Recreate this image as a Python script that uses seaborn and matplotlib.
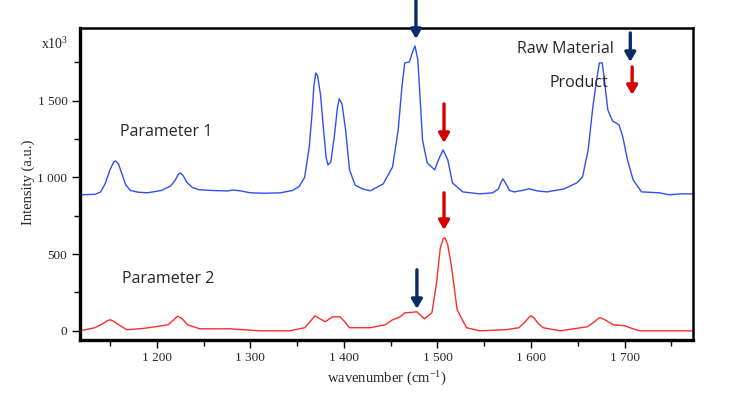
'''
Raman spectra of raw material vs product
'''
import numpy as np
import pandas as pd
import matplotlib
matplotlib.use('Agg')
import matplotlib.pyplot as plt
from matplotlib.ticker import MultipleLocator, FuncFormatter
import seaborn as sns

# spectrum (wavenumber cm-1, intensity)
wn_param1 = [1118, 1134, 1140, 1145, 1150, 1154, 1156, 1159, 1163, 1167, 1172, 1180, 1190, 1205,
             1215, 1220, 1223, 1225, 1228, 1232, 1238, 1245, 1260, 1275, 1282, 1290, 1300, 1315,
             1332, 1345, 1352, 1358, 1363, 1366, 1368, 1370, 1372, 1375, 1378, 1381, 1383, 1386,
             1390, 1393, 1395, 1398, 1402, 1406, 1412, 1420, 1428, 1442, 1452, 1458, 1462, 1465,
             1470, 1473, 1476, 1479, 1482, 1484, 1489, 1497, 1502, 1506, 1511, 1516, 1527, 1545,
             1559, 1565, 1568, 1570, 1573, 1577, 1582, 1590, 1598, 1607, 1617, 1635, 1649, 1655,
             1661, 1666, 1670, 1673, 1676, 1678, 1682, 1687, 1694, 1698, 1703, 1709, 1718, 1737,
             1748, 1760, 1773]
int_param1 = [887, 890, 905, 960, 1050, 1100, 1108, 1090, 1020, 950, 915, 904, 900, 915,
              945, 985, 1020, 1030, 1015, 970, 935, 920, 915, 912, 918, 912, 900, 897,
              900, 915, 940, 1000, 1200, 1420, 1600, 1682, 1660, 1540, 1330, 1130, 1082, 1100,
              1280, 1450, 1513, 1480, 1300, 1050, 950, 925, 913, 958, 1069, 1310, 1591, 1747,
              1754, 1812, 1858, 1767, 1460, 1245, 1095, 1050, 1128, 1180, 1115, 965, 906, 893,
              900, 925, 970, 991, 960, 915, 906, 915, 926, 912, 906, 925, 965, 1004,
              1180, 1460, 1636, 1747, 1747, 1656, 1441, 1369, 1343, 1265, 1115, 985, 906, 900,
              887, 893, 893]

wn_param2 = [1118, 1134, 1142, 1147, 1150, 1153, 1158, 1168, 1185, 1198, 1212, 1218, 1222, 1227,
             1233, 1246, 1278, 1310, 1342, 1358, 1364, 1369, 1374, 1380, 1388, 1396, 1400, 1406,
             1428, 1444, 1452, 1460, 1465, 1472, 1478, 1486, 1494, 1499, 1503, 1506, 1508, 1511,
             1515, 1521, 1531, 1545, 1573, 1587, 1594, 1598, 1600, 1603, 1608, 1613, 1631, 1660,
             1668, 1672, 1674, 1678, 1688, 1700, 1708, 1716, 1773]
int_param2 = [0, 20, 45, 65, 72, 65, 45, 7, 15, 26, 39, 70, 95, 80,
              39, 13, 13, 0, 0, 20, 60, 98, 80, 59, 91, 91, 65, 20,
              20, 39, 72, 91, 117, 120, 124, 78, 117, 313, 540, 600, 606, 560,
              417, 137, 20, 0, 7, 20, 60, 90, 98, 85, 45, 20, 0, 26,
              60, 82, 85, 75, 39, 33, 15, 0, 0]

# arrows: (wavenumber, tail intensity, tip intensity)
raw_arrows = [(1477, 2158, 1904), (1478, 398, 143)]
product_arrows = [(1507, 1480, 1226), (1507, 900, 658)]
legend_labels = ['Raw Material', 'Product']
legend_arrows = [(1706, 1943, 1754), (1708, 1721, 1539)]
legend_text_pos = [(1689, 1835), (1682, 1615)]

blue = '#2f4ff2'
red = '#ff2a2a'
navy = '#0c2c63'
dark_red = '#d40000'

spec = pd.concat([
    pd.DataFrame({'wavenumber': wn_param1, 'intensity': int_param1, 'series': 'Parameter 1'}),
    pd.DataFrame({'wavenumber': wn_param2, 'intensity': int_param2, 'series': 'Parameter 2'}),
])

sns.set_style('white')
plt.rcParams['font.family'] = ['Liberation Serif', 'DejaVu Serif']
plt.rcParams['mathtext.fontset'] = 'custom'
plt.rcParams['mathtext.rm'] = 'Liberation Serif'
plt.rcParams['mathtext.it'] = 'Liberation Serif:italic'

fig = plt.figure(figsize=(7.31, 3.97), dpi=100)
ax = fig.add_axes([0.1094, 0.1436, 0.8386, 0.7859])

sns.lineplot(data=spec, x='wavenumber', y='intensity', hue='series',
             palette={'Parameter 1': blue, 'Parameter 2': red},
             sort=False, estimator=None, lw=1.0, legend=False, ax=ax)

ax.set_xlim(1118, 1773)
ax.set_ylim(-60, 1975)

ax.xaxis.set_major_locator(MultipleLocator(100))
ax.xaxis.set_minor_locator(MultipleLocator(50))
ax.yaxis.set_major_locator(MultipleLocator(500))
ax.yaxis.set_minor_locator(MultipleLocator(250))
fmt = FuncFormatter(lambda v, p: '{:,}'.format(int(v)).replace(',', ' '))
ax.xaxis.set_major_formatter(fmt)
ax.yaxis.set_major_formatter(fmt)
ax.tick_params(which='both', direction='out', top=False, right=False,
               left=True, bottom=True, width=1, color='black', labelsize=9.5)
ax.tick_params(which='major', length=6, pad=3)
ax.tick_params(which='minor', length=4)

for side in ['left', 'bottom']:
    ax.spines[side].set_linewidth(2.4)
for side in ['top', 'right']:
    ax.spines[side].set_linewidth(1.8)
for s in ax.spines.values():
    s.set_color('black')

ax.set_xlabel('wavenumber (cm$^{-1}$)', fontsize=10.5)
ax.set_ylabel('Intensity (a.u.)', fontsize=10.5)
ax.xaxis.set_label_coords(0.5, -0.095)
ax.yaxis.set_label_coords(-0.073, 0.506)
fig.text(0.056, 0.89, 'x10$^{3}$', fontsize=10, ha='left', va='center')

sans = ['Open Sans', 'DejaVu Sans']
ax.text(1161, 1297, 'Parameter 1', fontsize=11.5, family=sans, va='center')
ax.text(1163, 339, 'Parameter 2', fontsize=11.5, family=sans, va='center')


def arrow(x, y0, y1, color):
    ax.annotate('', xy=(x, y1), xytext=(x, y0), annotation_clip=False,
                arrowprops=dict(arrowstyle='-|>,head_width=0.32,head_length=0.55',
                                color=color, lw=2.4, shrinkA=0, shrinkB=0))


for x, y0, y1 in raw_arrows:
    arrow(x, y0, y1, navy)
for x, y0, y1 in product_arrows:
    arrow(x, y0, y1, dark_red)
for lab, (x, y0, y1), c, (tx, ty) in zip(legend_labels, legend_arrows, [navy, dark_red], legend_text_pos):
    arrow(x, y0, y1, c)
    ax.text(tx, ty, lab, fontsize=11.5, family=sans, ha='right', va='center')

fig.savefig('out.png', dpi=100)
